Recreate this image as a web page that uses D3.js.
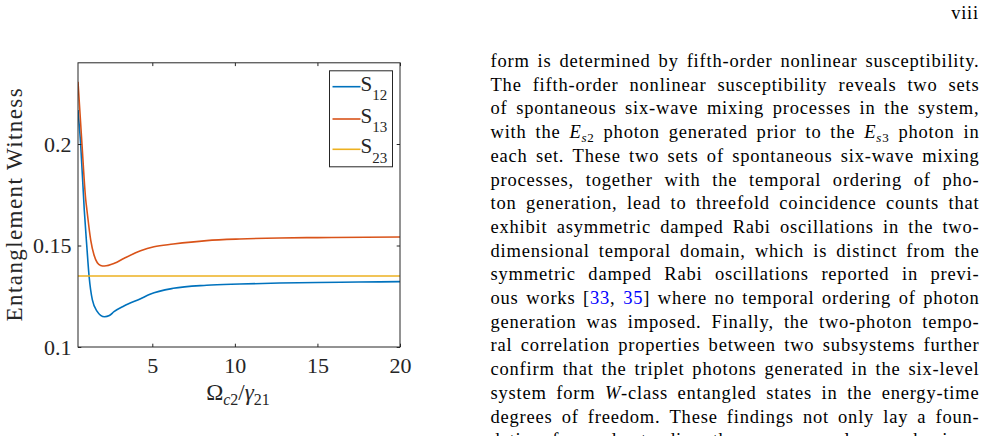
<!DOCTYPE html>
<html>
<head>
<meta charset="utf-8">
<script src="https://cdn.jsdelivr.net/npm/d3@7"></script>
<style>
  html, body { margin: 0; padding: 0; background: #fff; }
  svg { display: block; }
</style>
</head>
<body>
<svg id="page" width="986" height="436"></svg>
<script>
// valeurs (S12, S13, S23 en fonction de Omega_c2/gamma_21)
const xTicks = [5, 10, 15, 20];
const yTicks = [0.1, 0.15, 0.2];

const xS12 = [0.5, 0.66, 0.88, 1.03, 1.17, 1.37, 1.67, 1.87, 2.11, 2.4, 2.68, 3.28, 4.29, 4.86, 6.27, 8.29, 10.3, 12.7, 15, 17.5, 20];
const s12 = [0.2167, 0.2, 0.1675, 0.15, 0.135, 0.1232, 0.1174, 0.1156, 0.1149, 0.1155, 0.1174, 0.1202, 0.1238, 0.126, 0.1289, 0.1304, 0.131, 0.1315, 0.1318, 0.132, 0.1322];

const xS13 = [0.5, 0.74, 0.97, 1.04, 1.27, 1.47, 1.67, 1.87, 2.1, 2.7, 3.3, 4.29, 5.1, 6.27, 8.29, 10.3, 12.7, 15, 20];
const s13 = [0.2307, 0.2, 0.1724, 0.1675, 0.1527, 0.1453, 0.1415, 0.1402, 0.1399, 0.1412, 0.1437, 0.1474, 0.1494, 0.1507, 0.1524, 0.1532, 0.1537, 0.1539, 0.1542];

const xS23 = [0.5, 20];
const s23 = [0.135, 0.135];

const seriesNames = ["S_12_", "S_13_", "S_23_"];
const seriesColors = ["#0072BD", "#D95319", "#EDB120"];

// texte de la page (* = italique, _ = indice, # = lien bleu)
const bodyLines = [
  "form is determined by fifth-order nonlinear susceptibility.",
  "The fifth-order nonlinear susceptibility reveals two sets",
  "of spontaneous six-wave mixing processes in the system,",
  "with the *E*_*s*2_ photon generated prior to the *E*_*s*3_ photon in",
  "each set. These two sets of spontaneous six-wave mixing",
  "processes, together with the temporal ordering of pho-",
  "ton generation, lead to threefold coincidence counts that",
  "exhibit asymmetric damped Rabi oscillations in the two-",
  "dimensional temporal domain, which is distinct from the",
  "symmetric damped Rabi oscillations reported in previ-",
  "ous works [#33#, #35#] where no temporal ordering of photon",
  "generation was imposed. Finally, the two-photon tempo-",
  "ral correlation properties between two subsystems further",
  "confirm that the triplet photons generated in the six-level",
  "system form *W*-class entangled states in the energy-time",
  "degrees of freedom. These findings not only lay a foun-",
  "dation for understanding the more complex mechanisms",
];
const pageNumber = "viii";

const SERIF = "Liberation Serif";
const INK = "#262626";

const svg = d3.select("#page");
svg.append("rect").attr("width", 986).attr("height", 436).attr("fill", "#fff");

// petit parseur pour l'italique / indices / liens
function segments(word) {
  const segs = [];
  let it = false, sub = false, blue = false, buf = "";
  const flush = () => {
    if (buf) segs.push({ t: buf, it, sub, blue });
    buf = "";
  };
  for (const ch of word) {
    if (ch === "*") { flush(); it = !it; }
    else if (ch === "_") { flush(); sub = !sub; }
    else if (ch === "#") { flush(); blue = !blue; }
    else buf += ch;
  }
  flush();
  return segs;
}

function rich(textSel, str, fs, subFs, subShift) {
  let wasSub = false;
  for (const s of segments(str)) {
    const dy = s.sub && !wasSub ? subShift : !s.sub && wasSub ? -subShift : 0;
    textSel.append("tspan")
      .attr("dy", dy)
      .attr("font-size", s.sub ? subFs : fs)
      .attr("font-style", s.it ? "italic" : "normal")
      .attr("fill", s.blue ? "#0000ff" : null)
      .text(s.t);
    wasSub = s.sub;
  }
}

// ---- graphique ----
const plot = { left: 78, right: 400, top: 62.8, bottom: 347 };
const x = d3.scaleLinear().domain([0.5, 20]).range([plot.left, plot.right]);
const y = d3.scaleLinear().domain([0.1, 0.24]).range([plot.bottom, plot.top]);

const chart = svg.append("g").attr("font-family", SERIF);

svg.append("clipPath").attr("id", "plotClip")
  .append("rect")
  .attr("x", plot.left).attr("y", plot.top)
  .attr("width", plot.right - plot.left).attr("height", plot.bottom - plot.top);

const line = d3.line().x((d) => x(d[0])).y((d) => y(d[1])).curve(d3.curveMonotoneX);
const allSeries = [d3.zip(xS12, s12), d3.zip(xS13, s13), d3.zip(xS23, s23)];

chart.append("g").attr("clip-path", "url(#plotClip)")
  .selectAll("path")
  .data(allSeries)
  .join("path")
  .attr("d", line)
  .attr("fill", "none")
  .attr("stroke", (_d, i) => seriesColors[i])
  .attr("stroke-width", 1.6);

function styleAxis(g) {
  g.select(".domain").remove();
  g.selectAll(".tick line").attr("stroke", INK);
  g.selectAll(".tick text").attr("fill", INK).attr("font-size", 22).attr("font-family", SERIF);
}

chart.append("g")
  .attr("transform", `translate(0,${plot.bottom})`)
  .call(d3.axisBottom(x).tickValues(xTicks).tickSizeInner(-3.3).tickSizeOuter(0).tickPadding(10).tickFormat(d3.format("d")))
  .call(styleAxis);
chart.append("g")
  .attr("transform", `translate(0,${plot.top})`)
  .call(d3.axisTop(x).tickValues(xTicks).tickSizeInner(-3.3).tickSizeOuter(0).tickFormat(""))
  .call(styleAxis);
chart.append("g")
  .attr("transform", `translate(${plot.left},0)`)
  .call(d3.axisLeft(y).tickValues(yTicks).tickSizeInner(-3.3).tickSizeOuter(0).tickPadding(6.5).tickFormat((d) => String(d)))
  .call(styleAxis);
chart.append("g")
  .attr("transform", `translate(${plot.right},0)`)
  .call(d3.axisRight(y).tickValues(yTicks).tickSizeInner(-3.3).tickSizeOuter(0).tickFormat(""))
  .call(styleAxis);

chart.append("rect")
  .attr("x", plot.left).attr("y", plot.top)
  .attr("width", plot.right - plot.left).attr("height", plot.bottom - plot.top)
  .attr("fill", "none").attr("stroke", INK).attr("stroke-width", 1);

// titres des axes
chart.append("text")
  .attr("transform", `translate(21.5,${(plot.top + plot.bottom) / 2}) rotate(-90)`)
  .attr("text-anchor", "middle")
  .attr("font-size", 23)
  .attr("fill", INK)
  .attr("textLength", 233)
  .attr("lengthAdjust", "spacing")
  .text("Entanglement  Witness");

const xl = chart.append("text")
  .attr("x", 238).attr("y", 400)
  .attr("text-anchor", "middle")
  .attr("fill", INK);
rich(xl, "Ω_*c*2_/*γ*_21_", 23, 16, 5);

// légende
const legend = chart.append("g");
legend.append("rect")
  .attr("x", 329.5).attr("y", 70.8).attr("width", 63).attr("height", 96)
  .attr("fill", "#fff").attr("stroke", INK).attr("stroke-width", 1);
const legendY = [86.7, 119, 149.3];
seriesNames.forEach((name, i) => {
  legend.append("line")
    .attr("x1", 332.5).attr("x2", 360.5)
    .attr("y1", legendY[i]).attr("y2", legendY[i])
    .attr("stroke", seriesColors[i]).attr("stroke-width", 1.6);
  const t = legend.append("text")
    .attr("x", 360.5).attr("y", legendY[i] + 4)
    .attr("fill", INK);
  rich(t, name, 21, 15, 9.3);
});

// ---- texte justifié à droite ----
const textLeft = 490.5, textRight = 979.5, firstBase = 67, lead = 23.7, bodyFs = 18.5;
const body = svg.append("g").attr("font-family", SERIF).attr("fill", "#000").attr("letter-spacing", 0.8);

bodyLines.forEach((ln, li) => {
  const words = ln.split(" ");
  const by = firstBase + li * lead;
  const nodes = words.map((w) => {
    const t = body.append("text").attr("y", by).attr("font-size", bodyFs);
    rich(t, w, bodyFs, 13, 3.6);
    return t;
  });
  const widths = nodes.map((t) => t.node().getComputedTextLength());
  const gap = (textRight - textLeft - d3.sum(widths)) / Math.max(1, words.length - 1);
  let cx = textLeft;
  nodes.forEach((t, i) => {
    t.attr("x", cx);
    cx += widths[i] + gap;
  });
});

svg.append("text")
  .attr("x", 979).attr("y", 18.5)
  .attr("text-anchor", "end")
  .attr("font-family", SERIF)
  .attr("font-size", 18.5)
  .attr("letter-spacing", 0.8)
  .text(pageNumber);
</script>
</body>
</html>
